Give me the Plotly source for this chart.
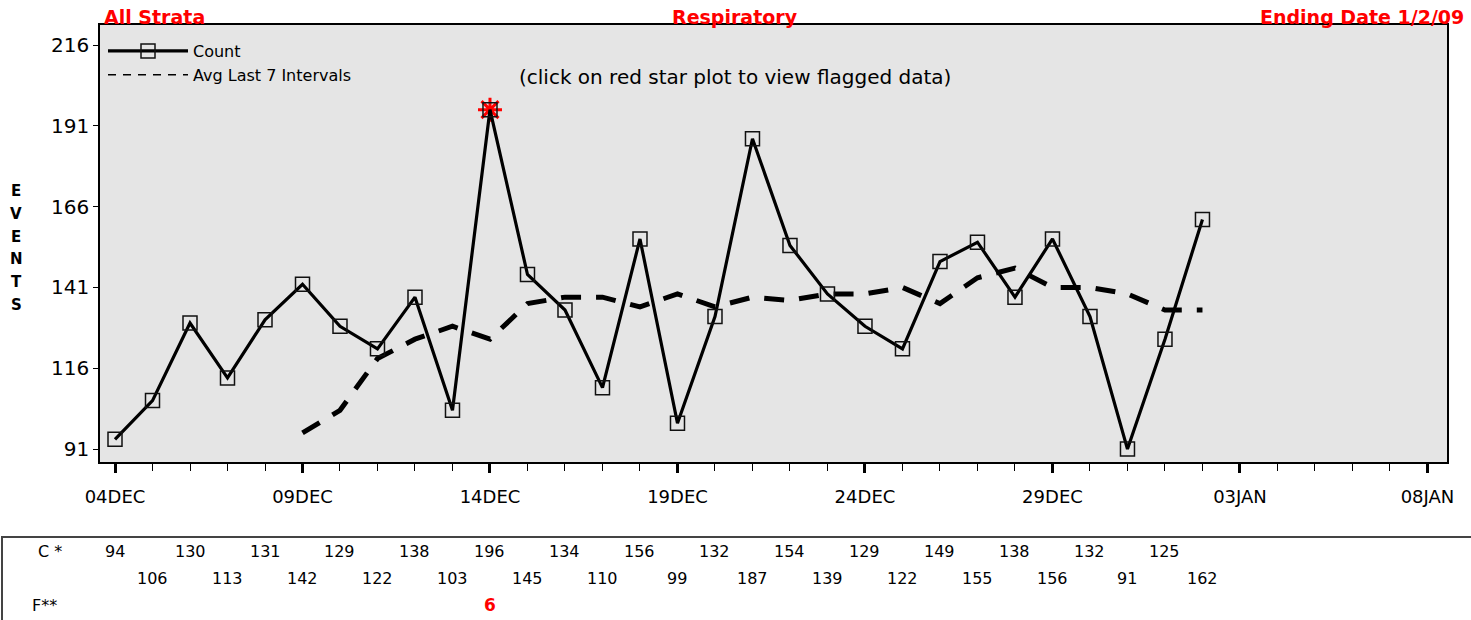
import pandas as pd
import plotly.graph_objects as go

# ---------------- data ----------------
start_date = "2008-12-04"
counts = [94, 106, 130, 113, 131, 142, 129, 122, 138, 103,
          196, 145, 134, 110, 156, 99, 132, 187, 154, 139,
          129, 122, 149, 155, 138, 156, 132, 91, 125, 162]
dates = pd.date_range(start_date, periods=len(counts), freq="D")

avg_start = "2008-12-09"
avg_last7 = [96, 103, 119, 125, 129, 125, 136, 138, 138, 135,
             139, 135, 138, 137, 139, 139, 141, 136, 144, 147,
             141, 141, 139, 134, 134]
avg_dates = pd.date_range(avg_start, periods=len(avg_last7), freq="D")

flag_dates = ["2008-12-14"]
flag_counts = [196]
flag_values = [6]

y_ticks = [91, 116, 141, 166, 191, 216]
x_tick_dates = ["2008-12-04", "2008-12-09", "2008-12-14", "2008-12-19", "2008-12-24",
                "2008-12-29", "2009-01-03", "2009-01-08"]
x_tick_labels = ["04DEC", "09DEC", "14DEC", "19DEC", "24DEC", "29DEC", "03JAN", "08JAN"]

FONT = "DejaVu Sans, Liberation Sans, Arial, sans-serif"
RED = "#ff0000"

# plot-area geometry in pixels (for paper-coordinate conversions)
W, H = 1471, 620
ML, MR, MT, MB = 100, 24, 25, 158
PW, PH = W - ML - MR, H - MT - MB


def px_x(p):
    return (p - ML) / PW


def px_y(p):
    return (H - MB - p) / PH


fig = go.Figure()

# average line
fig.add_trace(go.Scatter(
    x=avg_dates, y=avg_last7, mode="lines", showlegend=False,
    line=dict(color="black", width=5, dash="20px,15px"),
))
# flagged red star
fig.add_trace(go.Scatter(
    x=pd.to_datetime(flag_dates), y=flag_counts, mode="markers", showlegend=False,
    marker=dict(symbol="asterisk-open", size=20, color=RED, line=dict(color=RED, width=3)),
))
# count line
fig.add_trace(go.Scatter(
    x=dates, y=counts, mode="lines+markers", name="Count",
    line=dict(color="black", width=3.2),
    marker=dict(symbol="square-open", size=14, color="#111111", line=dict(width=1.5)),
))
# legend entry for average (thin dashed sample)
fig.add_trace(go.Scatter(
    x=[None], y=[None], mode="lines", name="Avg Last 7 Intervals",
    line=dict(color="black", width=1.5, dash="8px,7px"),
))

annotations = []
annotations.append(dict(text="<b>All Strata</b>", x=px_x(102), y=px_y(17), xref="paper", yref="paper",
                        xanchor="left", yanchor="middle", showarrow=False,
                        font=dict(family=FONT, size=19, color=RED)))
annotations.append(dict(text="<b>Respiratory</b>", x=px_x(735), y=px_y(17), xref="paper", yref="paper",
                        xanchor="center", yanchor="middle", showarrow=False,
                        font=dict(family=FONT, size=19, color=RED)))
annotations.append(dict(text="<b>Ending Date 1/2/09</b>", x=px_x(1466), y=px_y(17), xref="paper", yref="paper",
                        xanchor="right", yanchor="middle", showarrow=False,
                        font=dict(family=FONT, size=19, color=RED)))
annotations.append(dict(text="(click on red star plot to view flagged data)", x=px_x(735), y=px_y(77),
                        xref="paper", yref="paper", xanchor="center", yanchor="middle", showarrow=False,
                        font=dict(family=FONT, size=20, color="black")))
for i, ch in enumerate("EVENTS"):
    annotations.append(dict(text=f"<b>{ch}</b>", x=px_x(16), y=px_y(191 + i * 22.8), xref="paper", yref="paper",
                            xanchor="center", yanchor="middle", showarrow=False,
                            font=dict(family=FONT, size=15, color="black")))

row_y = [px_y(551), px_y(578), px_y(605)]
annotations.append(dict(text="C *", x=px_x(36), y=row_y[0], xref="paper", yref="paper",
                        xanchor="left", yanchor="middle", showarrow=False,
                        font=dict(family=FONT, size=16, color="black")))
annotations.append(dict(text="F**", x=px_x(30), y=row_y[2], xref="paper", yref="paper",
                        xanchor="left", yanchor="middle", showarrow=False,
                        font=dict(family=FONT, size=16, color="black")))
for i, (d, c) in enumerate(zip(dates, counts)):
    annotations.append(dict(text=str(c), x=d, y=row_y[i % 2], xref="x", yref="paper",
                            xanchor="center", yanchor="middle", showarrow=False,
                            font=dict(family=FONT, size=16, color="black")))
for d, f in zip(flag_dates, flag_values):
    annotations.append(dict(text=f"<b>{f}</b>", x=d, y=row_y[2], xref="x", yref="paper",
                            xanchor="center", yanchor="middle", showarrow=False,
                            font=dict(family=FONT, size=17, color=RED)))

shapes = [dict(type="rect", xref="paper", yref="paper",
               x0=px_x(2), x1=px_x(1480), y0=px_y(640), y1=px_y(537),
               line=dict(color="#444444", width=2), fillcolor="rgba(0,0,0,0)", layer="above")]

fig.update_layout(
    width=W, height=H,
    margin=dict(l=ML, r=MR, t=MT, b=MB, pad=0),
    paper_bgcolor="white", plot_bgcolor="#e5e5e5",
    font=dict(family=FONT, size=15, color="black"),
    showlegend=True,
    legend=dict(x=px_x(103), y=px_y(34), xanchor="left", yanchor="top",
                bgcolor="rgba(0,0,0,0)", borderwidth=0, itemwidth=80,
                font=dict(family=FONT, size=16, color="black"), tracegroupgap=0),
    annotations=annotations,
    shapes=shapes,
)

fig.update_xaxes(
    type="date",
    range=["2008-12-03 14:24", "2009-01-08 12:30"],
    tickmode="array", tickvals=x_tick_dates, ticktext=x_tick_labels,
    ticks="outside", ticklen=9, tickwidth=3, tickcolor="black",
    ticklabelstandoff=9,
    minor=dict(tickmode="linear", tick0="2008-12-04", dtick=86400000,
               ticks="outside", ticklen=7, tickwidth=1, tickcolor="black", showgrid=False),
    showgrid=False, zeroline=False,
    showline=True, linecolor="black", linewidth=1.5, mirror=True,
    tickfont=dict(family=FONT, size=18, color="black"),
)
fig.update_yaxes(
    range=[87, 222.2],
    tickmode="array", tickvals=y_ticks, ticktext=[str(v) for v in y_ticks],
    ticks="outside", ticklen=5, tickwidth=1, tickcolor="black",
    showgrid=False, zeroline=False,
    showline=True, linecolor="black", linewidth=1.5, mirror=True,
    tickfont=dict(family=FONT, size=20, color="black"),
)

fig.write_html("out.html", config={"displayModeBar": False},
               post_script="document.body.style.margin='0';document.body.style.overflow='hidden';")
